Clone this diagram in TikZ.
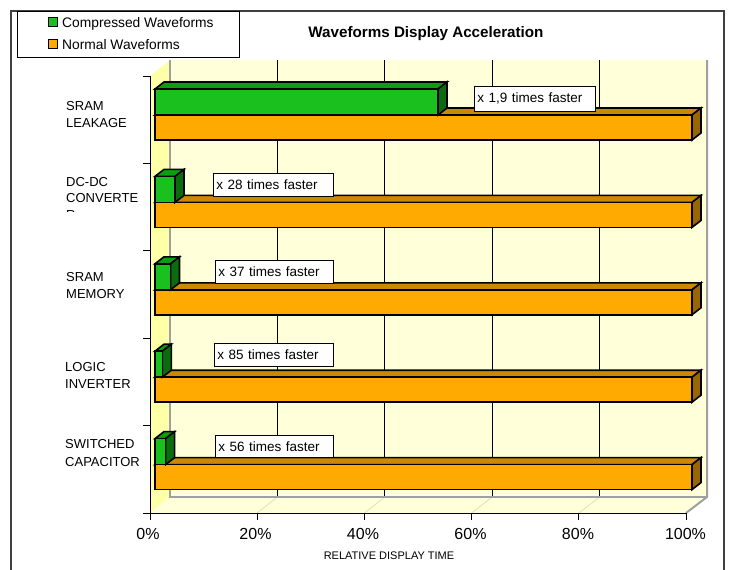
\documentclass[tikz,border=0pt]{standalone}
\usepackage{fontspec}
\setmainfont{Liberation Sans}
\definecolor{wallback}{HTML}{FFFFDA}
\definecolor{wallside}{HTML}{FFFFA8}
\definecolor{greenfront}{HTML}{19C01E}
\definecolor{greentop}{HTML}{109C12}
\definecolor{greenside}{HTML}{0A6C0C}
\definecolor{orangefront}{HTML}{FFAA00}
\definecolor{orangetop}{HTML}{CC8800}
\definecolor{orangeside}{HTML}{996600}
\definecolor{edgegray}{HTML}{A0A0A0}
\definecolor{floorgrid}{HTML}{E0E0BC}
\definecolor{framegray}{HTML}{404040}
\tikzset{
  barline/.style={draw=black, line width=1.6pt, line join=miter},
  gridline/.style={draw=black, line width=0.8pt},
  edge/.style={draw=edgegray, line width=2pt},
  catlab/.style={font=\fontsize{13}{15}\selectfont, anchor=base west, inner sep=0pt},
  ticklab/.style={font=\fontsize{16}{18}\selectfont, anchor=base, inner sep=0pt},
  callout/.style={draw=black, line width=0.9pt, fill=white, anchor=north west,
    font=\fontsize{13.5}{15}\selectfont, align=left, inner xsep=3pt, inner ysep=0pt},
  legsq/.style={draw=black, line width=0.8pt, minimum size=8.5pt, inner sep=0pt},
  legtext/.style={font=\fontsize{13.8}{15}\selectfont, anchor=base west, inner sep=0pt},
}
\begin{document}
\begin{tikzpicture}[x=1pt, y=-1pt]
\useasboundingbox (0,0) rectangle (729,570);

% outer frame (its bottom edge lies below the page)
\draw[framegray, line width=1.5pt] (11,575) -- (11,11) -- (724,11) -- (724,575);

% legend
\draw[black, line width=1pt] (17,11) rectangle (239,57);
\node[legsq, fill=greenfront] (lg1) at (53,22) {};
\node[legsq, fill=orangefront] (lg2) at (53,44) {};
\node[legtext] (lt1) at (62,27.3) {Compressed Waveforms};
\node[legtext] (lt2) at (62,49.3) {Normal Waveforms};

% title
\node[font=\fontsize{15.2}{17}\selectfont\bfseries, anchor=base, inner sep=0pt]
  (title) at (426,37.7) {Waveforms Display Acceleration};

% chart walls and floor
\fill[wallback] (170,60) rectangle (707,497);
\fill[wallside] (150,76) -- (170,60) -- (170,497) -- (150,513) -- cycle;
\fill[wallback] (150,513) -- (686,513) -- (707,497) -- (170,497) -- cycle;

% floor grid
\foreach \k in {1,...,4}
  \draw[floorgrid, line width=0.8pt] (150+107.2*\k,513) -- (170+107.4*\k,497);

% back wall grid
\foreach \k in {1,...,4}
  \draw[gridline] (170+107.4*\k,60) -- (170+107.4*\k,497);

% wall edges
\draw[edge] (170,60) -- (170,497) -- (707,497);
\draw[edge] (707,60) -- (707,497) -- (686,513);

% axes and ticks
\draw[black, line width=1pt] (150,76) -- (150,513) -- (686,513);
\foreach \k in {0,...,5}
  \draw[black, line width=1pt] (150+107.2*\k,513) -- (150+107.2*\k,519.5);
\foreach \k in {0,...,5}
  \draw[black, line width=1pt] (143,76+87.4*\k) -- (150,76+87.4*\k);

% bars: normal (orange) and compressed (green) per category
\foreach \t/\xg in {89/438, 176.4/175, 263.8/170.5, 351.2/162.3, 438.6/165.6}{
  \pgfmathsetmacro\m{\t+26}
  \pgfmathsetmacro\b{\t+51}
  \filldraw[barline, fill=orangetop] (155,\m) -- (692,\m) -- (701,\m-7) -- (164,\m-7) -- cycle;
  \filldraw[barline, fill=orangeside] (692,\m) -- (701,\m-7) -- (701,\b-7) -- (692,\b) -- cycle;
  \filldraw[barline, fill=orangefront] (155,\m) rectangle (692,\b);
  \filldraw[barline, fill=greentop] (155,\t) -- (\xg,\t) -- (\xg+9,\t-7) -- (164,\t-7) -- cycle;
  \filldraw[barline, fill=greenside] (\xg,\t) -- (\xg+9,\t-7) -- (\xg+9,\m-7) -- (\xg,\m) -- cycle;
  \filldraw[barline, fill=greenfront] (155,\t) rectangle (\xg,\m);
}

% speed-up callouts
\node[callout, text width=115pt, minimum height=25pt] (c1) at (474,86) {x 1,9 times faster};
\node[callout, text width=114pt, minimum height=23pt] (c2) at (213,173) {x 28 times faster};
\node[callout, text width=112pt, minimum height=23pt] (c3) at (215,260) {x 37 times faster};
\node[callout, text width=113pt, minimum height=23pt] (c4) at (214,343) {x 85 times faster};
\node[callout, text width=112pt, minimum height=22pt] (c5) at (215,435) {x 56 times faster};

% category labels
\node[catlab] (l1a) at (66,110.7) {SRAM};
\node[catlab] (l1b) at (66,127) {LEAKAGE};
\node[catlab] (l2a) at (66,186) {DC-DC};
\node[catlab] (l2b) at (66,202.7) {CONVERTE};
\begin{scope}
  \clip (60,200) rectangle (150,211.5);
  \node[catlab] (l2c) at (66,219.4) {R};
\end{scope}
\node[catlab] (l3a) at (66,281.7) {SRAM};
\node[catlab] (l3b) at (66,298) {MEMORY};
\node[catlab] (l4a) at (65,371) {LOGIC};
\node[catlab] (l4b) at (65,388) {INVERTER};
\node[catlab] (l5a) at (65,448) {SWITCHED};
\node[catlab] (l5b) at (65,466) {CAPACITOR};

% value axis labels
\node[ticklab] (t0) at (148,539.5) {0\%};
\node[ticklab] (t1) at (255.5,539.5) {20\%};
\node[ticklab] (t2) at (363,539.5) {40\%};
\node[ticklab] (t3) at (470.5,539.5) {60\%};
\node[ticklab] (t4) at (578,539.5) {80\%};
\node[ticklab] (t5) at (685.5,539.5) {100\%};
\node[font=\fontsize{11}{13}\selectfont, anchor=base, inner sep=0pt]
  (xtitle) at (389,559.3) {RELATIVE DISPLAY TIME};
\end{tikzpicture}
\end{document}
